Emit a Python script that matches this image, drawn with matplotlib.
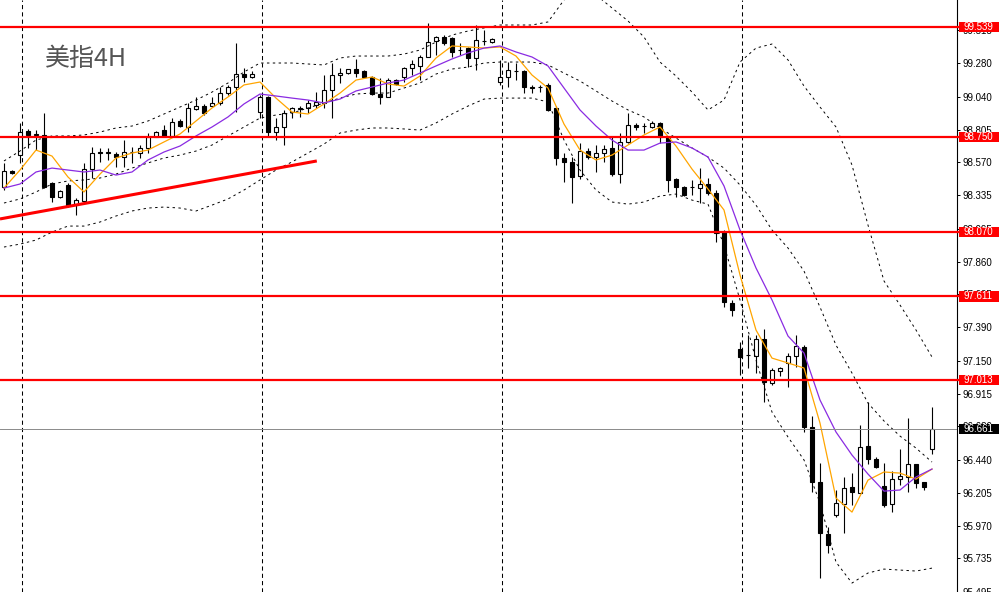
import matplotlib.pyplot as plt
import matplotlib.transforms as mtransforms
from matplotlib.patches import Rectangle
import numpy as np


##### Candle data (4H bars, oldest first) ######
opens = [98.394, 98.508, 98.622, 98.794, 98.766, 98.766, 98.423, 98.322, 98.408, 98.271,
         98.293, 98.522, 98.644, 98.637, 98.630, 98.608, 98.644, 98.637, 98.673, 98.751,
         98.801, 98.758, 98.866, 98.823, 98.952, 98.973, 98.973, 98.995, 99.066, 99.109,
         99.202, 99.181, 98.930, 99.038, 98.787, 98.823, 98.930, 98.959, 98.959, 98.981,
         98.995, 99.088, 99.195, 99.209, 99.238, 99.224, 99.181, 99.059, 99.038, 99.159,
         99.181, 99.245, 99.260, 99.324, 99.439, 99.467, 99.460, 99.374, 99.388, 99.317,
         99.439, 99.431, 99.145, 99.181, 99.224, 99.224, 99.109, 99.109, 99.124, 98.959,
         98.601, 98.573, 98.472, 98.651, 98.608, 98.637, 98.673, 98.486, 98.716, 98.837,
         98.830, 98.823, 98.852, 98.751, 98.451, 98.394, 98.394, 98.387, 98.415, 98.351,
         98.071, 97.563, 97.234, 97.191, 97.184, 97.305, 96.990, 97.076, 97.134, 97.184,
         97.248, 96.676, 96.282, 95.910, 96.046, 96.124, 96.246, 96.203, 96.540, 96.447,
         96.253, 96.124, 96.303, 96.318, 96.411, 96.282, 96.518]
highs = [98.566, 98.515, 98.852, 98.808, 98.801, 98.924, 98.430, 98.372, 98.423, 98.315,
         98.566, 98.680, 98.673, 98.673, 98.644, 98.730, 98.680, 98.694, 98.780, 98.794,
         98.837, 98.887, 98.880, 98.995, 99.038, 98.988, 99.038, 99.109, 99.124, 99.424,
         99.245, 99.224, 99.052, 99.045, 98.887, 98.945, 98.966, 98.973, 99.016, 99.073,
         99.195, 99.281, 99.245, 99.238, 99.310, 99.231, 99.188, 99.174, 99.174, 99.166,
         99.252, 99.303, 99.338, 99.567, 99.474, 99.481, 99.467, 99.424, 99.396, 99.553,
         99.517, 99.460, 99.303, 99.288, 99.281, 99.231, 99.124, 99.124, 99.138, 98.973,
         98.637, 98.608, 98.708, 98.673, 98.694, 98.694, 98.751, 98.780, 98.924, 98.852,
         98.852, 98.866, 98.859, 98.758, 98.458, 98.401, 98.444, 98.530, 98.458, 98.372,
         98.086, 97.585, 97.284, 97.334, 97.334, 97.377, 97.098, 97.105, 97.205, 97.334,
         97.263, 96.754, 96.418, 95.960, 96.225, 96.318, 96.347, 96.690, 96.854, 96.461,
         96.418, 96.361, 96.518, 96.740, 96.411, 96.282, 96.819]
lows = [98.372, 98.486, 98.566, 98.673, 98.658, 98.387, 98.286, 98.315, 98.250, 98.193,
        98.286, 98.458, 98.573, 98.587, 98.537, 98.537, 98.566, 98.601, 98.637, 98.751,
        98.751, 98.751, 98.823, 98.787, 98.945, 98.909, 98.966, 98.981, 99.052, 98.930,
        99.145, 99.174, 98.887, 98.751, 98.730, 98.694, 98.887, 98.895, 98.923, 98.959,
        98.959, 98.887, 99.138, 99.202, 99.181, 99.174, 99.052, 98.988, 99.038, 99.124,
        99.145, 99.195, 99.159, 99.324, 99.338, 99.410, 99.324, 99.338, 99.252, 99.231,
        99.410, 99.424, 99.124, 99.109, 99.159, 99.066, 99.066, 99.073, 98.937, 98.551,
        98.430, 98.279, 98.451, 98.594, 98.501, 98.573, 98.472, 98.423, 98.708, 98.801,
        98.780, 98.816, 98.708, 98.358, 98.322, 98.329, 98.336, 98.279, 98.336, 98.000,
        97.534, 97.470, 97.048, 97.098, 97.062, 96.855, 96.976, 97.041, 96.962, 97.105,
        96.640, 96.210, 95.595, 95.774, 96.032, 95.917, 96.117, 96.203, 96.411, 96.382,
        96.103, 96.067, 96.260, 96.210, 96.239, 96.225, 96.482]
closes = [98.508, 98.494, 98.787, 98.766, 98.773, 98.394, 98.322, 98.365, 98.264, 98.300,
          98.522, 98.637, 98.637, 98.644, 98.608, 98.644, 98.646, 98.673, 98.751, 98.787,
          98.758, 98.859, 98.830, 98.959, 98.973, 98.923, 98.995, 99.066, 99.109, 99.202,
          99.181, 99.202, 99.038, 98.787, 98.823, 98.923, 98.959, 98.955, 98.995, 99.002,
          99.088, 99.195, 99.209, 99.238, 99.209, 99.181, 99.059, 99.038, 99.159, 99.131,
          99.245, 99.274, 99.324, 99.431, 99.467, 99.424, 99.360, 99.372, 99.317, 99.446,
          99.441, 99.453, 99.181, 99.231, 99.226, 99.109, 99.102, 99.107, 98.945, 98.601,
          98.573, 98.465, 98.651, 98.608, 98.637, 98.666, 98.486, 98.716, 98.837, 98.823,
          98.832, 98.852, 98.751, 98.444, 98.394, 98.336, 98.396, 98.415, 98.351, 98.064,
          97.570, 97.513, 97.177, 97.189, 97.305, 96.998, 97.084, 97.098, 97.184, 97.256,
          96.676, 96.282, 95.917, 95.831, 96.132, 96.239, 96.210, 96.532, 96.447, 96.389,
          96.117, 96.303, 96.325, 96.411, 96.275, 96.246, 96.661]

##### Indicator lines, read at every second candle ######
line_idx = list(range(0, 117, 2))
bb_upper = [98.580, 98.651, 98.730, 98.759, 98.759, 98.766, 98.787, 98.816, 98.830, 98.866,
            98.916, 98.966, 99.016, 99.073, 99.138, 99.217, 99.281, 99.281, 99.281, 99.274,
            99.267, 99.317, 99.331, 99.331, 99.331, 99.345, 99.374, 99.431, 99.481, 99.510,
            99.532, 99.553, 99.553, 99.553, 99.575, 99.732, 99.818, 99.768, 99.675, 99.582,
            99.467, 99.288, 99.188, 99.073, 98.945, 99.016, 99.288, 99.388, 99.417, 99.303,
            99.116, 98.966, 98.823, 98.551, 98.121, 97.721, 97.549, 97.370, 97.177]
bb_middle = [98.279, 98.308, 98.358, 98.415, 98.437, 98.444, 98.458, 98.486, 98.529, 98.566,
             98.601, 98.622, 98.651, 98.694, 98.759, 98.823, 98.887, 98.909, 98.923, 98.959,
             98.995, 99.030, 99.059, 99.066, 99.066, 99.102, 99.138, 99.202, 99.238, 99.252,
             99.281, 99.288, 99.288, 99.288, 99.267, 99.209, 99.152, 99.081, 99.009, 98.945,
             98.895, 98.816, 98.744, 98.673, 98.608, 98.529, 98.408, 98.264, 98.086, 97.957,
             97.792, 97.534, 97.262, 97.062, 96.847, 96.719, 96.611, 96.525, 96.425]
bb_lower = [97.964, 97.985, 98.014, 98.071, 98.114, 98.114, 98.143, 98.186, 98.222, 98.243,
            98.250, 98.243, 98.222, 98.264, 98.308, 98.372, 98.444, 98.515, 98.573, 98.637,
            98.701, 98.780, 98.801, 98.816, 98.816, 98.809, 98.801, 98.852, 98.916, 98.973,
            99.023, 99.030, 99.030, 99.030, 99.002, 98.730, 98.515, 98.372, 98.286, 98.271,
            98.286, 98.329, 98.343, 98.300, 98.271, 97.978, 97.585, 97.155, 96.783, 96.604,
            96.440, 96.132, 95.709, 95.559, 95.631, 95.659, 95.652, 95.645, 95.666]
ma_fast = [98.386, 98.515, 98.658, 98.615, 98.465, 98.358, 98.486, 98.601, 98.637, 98.658,
           98.716, 98.773, 98.866, 98.959, 99.038, 99.124, 99.145, 99.030, 98.930, 98.916,
           98.988, 99.066, 99.159, 99.181, 99.131, 99.116, 99.188, 99.317, 99.403, 99.396,
           99.388, 99.396, 99.331, 99.195, 99.102, 98.844, 98.658, 98.587, 98.622, 98.694,
           98.766, 98.823, 98.687, 98.522, 98.379, 98.229, 97.764, 97.370, 97.169, 97.134,
           97.098, 96.704, 96.167, 96.067, 96.296, 96.354, 96.346, 96.303, 96.375]
ma_slow = [98.386, 98.415, 98.501, 98.529, 98.515, 98.501, 98.515, 98.479, 98.501, 98.587,
           98.644, 98.687, 98.759, 98.823, 98.895, 98.988, 99.059, 99.045, 99.030, 99.016,
           98.995, 99.023, 99.081, 99.109, 99.138, 99.159, 99.209, 99.260, 99.310, 99.353,
           99.388, 99.403, 99.360, 99.324, 99.260, 99.102, 98.945, 98.830, 98.730, 98.658,
           98.658, 98.708, 98.716, 98.673, 98.608, 98.401, 98.086, 97.814, 97.585, 97.327,
           97.205, 96.869, 96.640, 96.475, 96.339, 96.217, 96.225, 96.318, 96.375]

##### Levels and drawings ######
levels = [99.539, 98.750, 98.070, 97.611, 97.013]
last_price = 96.661
trend_idx = [-0.5, 39.1]
trend_price = [98.165, 98.580]
grid_idx = [2.2, 32.2, 62.2, 92.2]
price_ticks = [99.515, 99.280, 99.040, 98.805, 98.570, 98.335, 98.095, 97.860, 97.625,
               97.390, 97.150, 96.915, 96.680, 96.440, 96.205, 95.970, 95.735, 95.495]
top_tick = 99.750
title_text = '美指4H'

plt.rcParams['font.family'] = ['Liberation Sans', 'DejaVu Sans']

fig = plt.figure(figsize=(10, 5.92), dpi=100)
ax = fig.add_axes([0, 0, 0.957, 1])

idx = np.arange(len(opens))
o = np.array(opens)
h = np.array(highs)
l = np.array(lows)
c = np.array(closes)
up = c >= o

# grid
for g in grid_idx:
    ax.axvline(g, color='black', lw=0.75, ls=(0, (4, 3)), zorder=0)

# candles
ax.vlines(idx, l, h, color='black', lw=0.8, zorder=2)
body_bottom = np.minimum(o, c)
body_height = np.maximum(np.abs(c - o), 0.0015)
ax.bar(idx, body_height, bottom=body_bottom, width=0.56,
       color=['white' if u else 'black' for u in up],
       edgecolor='black', linewidth=0.8, zorder=3)

# bollinger bands + moving averages
for band in (bb_upper, bb_middle, bb_lower):
    ax.plot(line_idx, band, color='black', lw=0.7, ls=(0, (2.5, 3.5)), zorder=4)
ax.plot(line_idx, ma_fast, color='#FFA500', lw=0.9, zorder=5)
ax.plot(line_idx, ma_slow, color='#8A2BE2', lw=0.9, zorder=5)

# horizontal levels, trend line
for lv in levels:
    ax.axhline(lv, xmin=0, xmax=1.003, color='red', lw=1.6, zorder=6, clip_on=False)
ax.axhline(last_price, color='#8a8a8a', lw=0.7, zorder=6)
ax.plot(trend_idx, trend_price, color='red', lw=2.2, zorder=6, solid_capstyle='butt')

ax.set_xlim(-0.5, 119.125)
ax.set_ylim(95.495, 99.732)
ax.set_xticks([])
ax.yaxis.tick_right()
ax.set_yticks(price_ticks)
ax.set_yticklabels(['%.3f' % t for t in price_ticks])
ax.tick_params(axis='y', direction='out', length=2, width=0.7, pad=2.2,
               labelsize=7, labelcolor='black')
for side in ('left', 'top', 'bottom'):
    ax.spines[side].set_visible(False)
ax.spines['right'].set_linewidth(0.8)

trans = mtransforms.blended_transform_factory(ax.transAxes, ax.transData)
ax.text(1.0063, top_tick, '%.3f' % top_tick, transform=trans, fontsize=7,
        va='center', ha='left', clip_on=False)

# price labels on the axis
box_h = 0.075
for lv, bg in [(v, 'red') for v in levels] + [(last_price, 'black')]:
    ax.add_patch(Rectangle((1.002, lv - box_h / 2), 0.0418, box_h, transform=trans,
                           facecolor=bg, edgecolor='none', clip_on=False, zorder=10))
    ax.text(1.0063, lv, '%.3f' % lv, transform=trans, color='white', fontsize=7,
            va='center', ha='left', zorder=11, clip_on=False)

ax.text(0.047, 0.900, title_text, transform=ax.transAxes, fontsize=18, color='#555555',
        family=['Noto Sans CJK SC', 'DejaVu Sans'], va='center', ha='left', zorder=7)

fig.savefig('out.png', dpi=100)
